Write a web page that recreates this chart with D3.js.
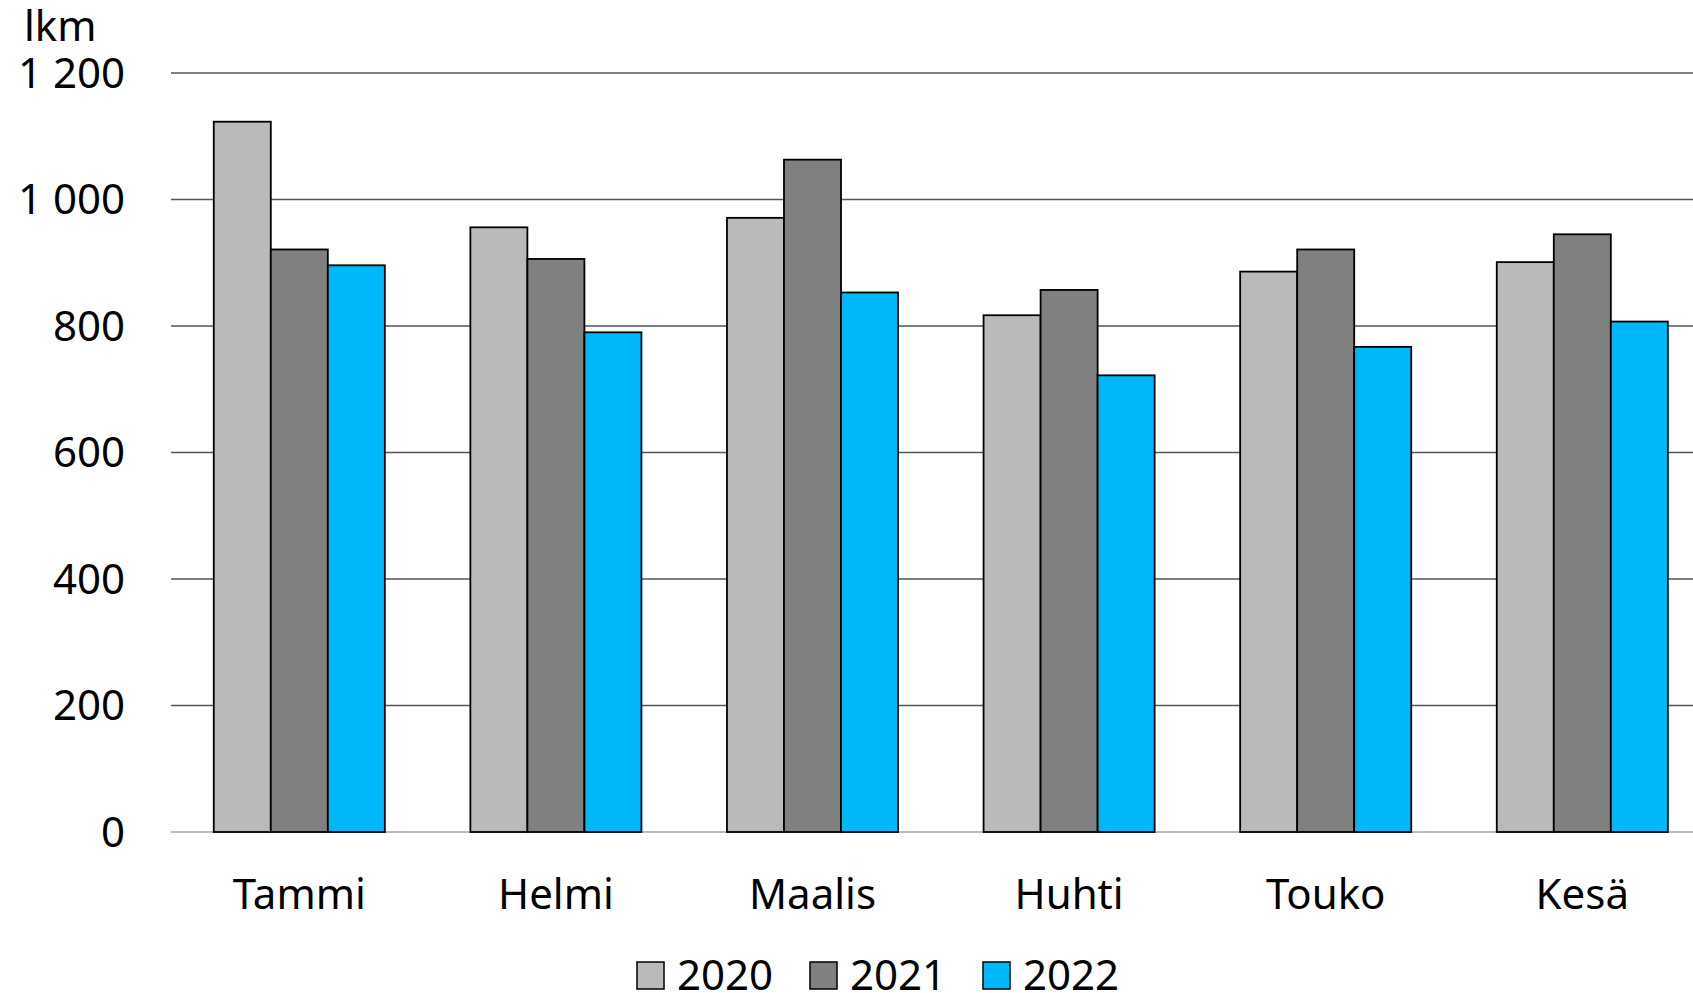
<!DOCTYPE html>
<html>
<head>
<meta charset="utf-8">
<script src="https://cdn.jsdelivr.net/npm/d3@7"></script>
<style>
  body { margin: 0; background: #fff; }
  svg text { font-family: "Noto Sans", "Open Sans", sans-serif; fill: #000; }
</style>
</head>
<body>
<div id="chart"></div>
<script>
const w = 1693,
      h = 993;

// data
const months = ["Tammi", "Helmi", "Maalis", "Huhti", "Touko", "Kesä"];
const years = ["2020", "2021", "2022"];
const v2020 = [1123, 956, 971, 817, 886, 901];
const v2021 = [921, 906, 1063, 857, 921, 945];
const v2022 = [896, 790, 853, 722, 767, 807];
const yTicks = [0, 200, 400, 600, 800, 1000, 1200];
const unitLabel = "lkm";

const colors = ["#bababa", "#808080", "#00b8f8"];
const series = [v2020, v2021, v2022];

const fiLocale = d3.formatLocale({decimal: ",", thousands: " ", grouping: [3], currency: ["", ""]});
const fmt = fiLocale.format(",d");

const svg = d3.select("#chart")
    .append("svg")
    .attr("width", w)
    .attr("height", h);

const y = d3.scaleLinear()
    .domain([0, 1200])
    .range([832, 73]);

const x0 = d3.scaleBand()
    .domain(months)
    .range([171, 171 + 6 * 256.6])
    .paddingInner(1 / 3)
    .paddingOuter(1 / 6);

const x1 = d3.scaleBand()
    .domain(years)
    .range([0, x0.bandwidth()]);

// gridlines
svg.append("g")
    .selectAll("line")
    .data(yTicks)
    .enter()
    .append("line")
    .attr("x1", 171)
    .attr("x2", w)
    .attr("y1", d => y(d))
    .attr("y2", d => y(d))
    .attr("stroke", d => d === 0 ? "#a6a6a6" : "#555")
    .attr("stroke-width", 1.5);

// y labels
const yAxis = d3.axisLeft(y).tickValues(yTicks).tickFormat(fmt).tickSize(0).tickPadding(0);
const yg = svg.append("g")
    .attr("transform", "translate(125,0)")
    .call(yAxis);
yg.select(".domain").remove();
yg.selectAll("text")
    .attr("font-size", 42)
    .attr("font-family", null)
    .attr("dy", "0.34em");

svg.append("text")
    .attr("x", 24)
    .attr("y", 41)
    .attr("font-size", 42)
    .text(unitLabel);

// bars
const groups = svg.append("g")
    .selectAll("g")
    .data(months)
    .enter()
    .append("g")
    .attr("transform", d => "translate(" + x0(d) + ",0)");

groups.selectAll("rect")
    .data((m, i) => years.map((yr, j) => ({yr: yr, v: series[j][i], c: colors[j]})))
    .enter()
    .append("rect")
    .attr("x", d => x1(d.yr))
    .attr("y", d => y(d.v))
    .attr("width", x1.bandwidth())
    .attr("height", d => y(0) - y(d.v))
    .attr("fill", d => d.c)
    .attr("stroke", "#000")
    .attr("stroke-width", 1.8);

// x labels
const xAxis = d3.axisBottom(x0).tickSize(0).tickPadding(0);
const xg = svg.append("g")
    .attr("transform", "translate(0,909)")
    .call(xAxis);
xg.select(".domain").remove();
xg.selectAll("text")
    .attr("font-size", 42)
    .attr("font-family", null)
    .attr("dy", 0);

// legend
const legendX = [637, 810, 983];
const legend = svg.append("g")
    .selectAll("g")
    .data(years)
    .enter()
    .append("g")
    .attr("transform", (d, i) => "translate(" + legendX[i] + ",962)");

legend.append("rect")
    .attr("width", 27)
    .attr("height", 27)
    .attr("fill", (d, i) => colors[i])
    .attr("stroke", "#000")
    .attr("stroke-width", 1.5);

legend.append("text")
    .attr("x", 40)
    .attr("y", 28)
    .attr("font-size", 42)
    .text(d => d);
</script>
</body>
</html>
